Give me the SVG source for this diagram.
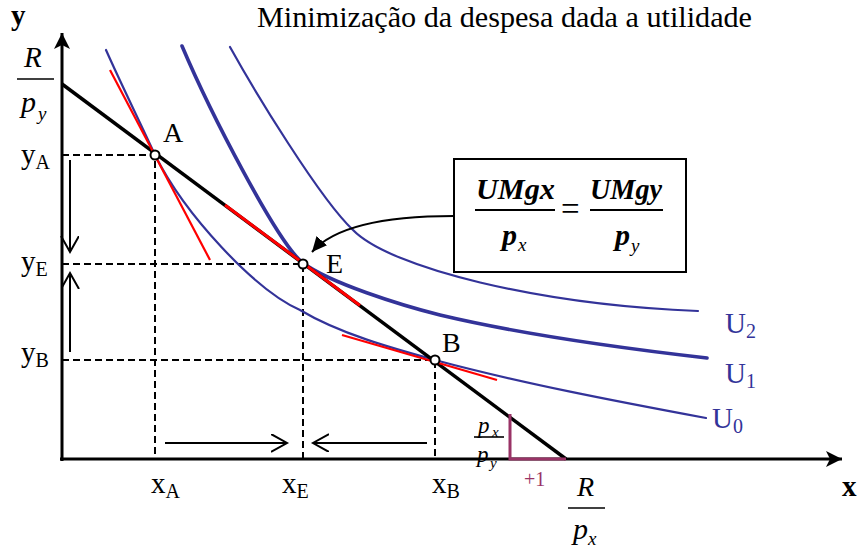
<svg xmlns="http://www.w3.org/2000/svg" width="858" height="552" viewBox="0 0 858 552">
<style>
  text { font-family: "Liberation Serif", "Times New Roman", serif; fill: #000; }
  .lbl { font-size: 29px; }
  .pl { font-size: 28px; }
  .sub { font-size: 20px; }
  .it { font-style: italic; }
  .bi { font-style: italic; font-weight: bold; }
  .ucl { fill: #333399; }
  .dash { stroke: #000; stroke-width: 2; stroke-dasharray: 7 4; fill: none; }
  .ic { fill: none; stroke: #333399; stroke-width: 2.2; stroke-linecap: round; }
  .tan { stroke: #ff0000; stroke-width: 2.2; fill: none; }
  .pt { fill: #fff; stroke: #000; stroke-width: 2; }
  .arr { stroke: #000; stroke-width: 2; fill: none; marker-end: url(#open); }
  .frac { stroke: #000; stroke-width: 1.6; }
</style>
<defs>
  <marker id="open" markerWidth="20" markerHeight="20" refX="16" refY="9" orient="auto" markerUnits="userSpaceOnUse">
    <path d="M0,0 L16,9 L0,18" fill="none" stroke="#000" stroke-width="2"/>
  </marker>
  <marker id="solid" markerWidth="20" markerHeight="20" refX="16" refY="8" orient="auto" markerUnits="userSpaceOnUse">
    <path d="M0,0 L16,8 L0,16 L4,8 Z" fill="#000"/>
  </marker>
  <marker id="call" markerWidth="20" markerHeight="20" refX="15" refY="7" orient="auto" markerUnits="userSpaceOnUse">
    <path d="M0,0 L15,7 L0,14 Z" fill="#000"/>
  </marker>
</defs>

<text x="257" y="27" style="font-size:30px" textLength="495" lengthAdjust="spacingAndGlyphs">Minimização da despesa dada a utilidade</text>

<g id="axes">
  <line x1="62" y1="461" x2="62" y2="33" stroke="#000" stroke-width="3" marker-end="url(#solid)"/>
  <line x1="60" y1="459" x2="842" y2="459" stroke="#000" stroke-width="3" marker-end="url(#solid)"/>
  <text x="11" y="25" style="font-size:29px;font-weight:bold">y</text>
  <text x="842" y="496" style="font-size:29px;font-weight:bold">x</text>
</g>

<g id="guides">
  <path class="dash" d="M62,155 H155 V459"/>
  <path class="dash" d="M62,264 H303 V459"/>
  <path class="dash" d="M62,360 H435 V459"/>
</g>

<g id="curves">
  <path id="U0" class="ic" d="M106,50 C122,86 140,122 155,155 C185,215 255,290 300,310 C340,334 395,349 435,360 C520,383 620,402 706,418"/>
  <path id="U1" class="ic" style="stroke-width:3.6" d="M182,46 C210,112 278,244 303,263 C330,283 400,305 440,315 C520,334 620,348 707,358"/>
  <path id="U2" class="ic" d="M230,47 C255,92 320,199 353,230 C390,268 540,305 698,311"/>
</g>

<g id="budget">
  <line x1="62" y1="84" x2="566" y2="459" stroke="#000" stroke-width="3.5"/>
  <line class="tan" x1="225" y1="205" x2="360" y2="305.5" style="stroke-width:3"/>
  <line class="tan" x1="110" y1="70" x2="210" y2="260"/>
  <line class="tan" x1="342" y1="335" x2="497" y2="380"/>
</g>

<g id="slope">
  <path d="M510,414 V459 H566" fill="none" stroke="#993366" stroke-width="3"/>
  <text x="524" y="486" style="font-size:20px;fill:#993366">+1</text>
  <text x="478" y="433" class="it" style="font-size:23px">p</text>
  <text x="492" y="437" class="it" style="font-size:15px">x</text>
  <line class="frac" x1="474" y1="437" x2="504" y2="437"/>
  <text x="477" y="462" class="it" style="font-size:23px">p</text>
  <text x="490" y="468" class="it" style="font-size:15px">y</text>
</g>

<g id="intercepts">
  <text x="24" y="67" class="it" style="font-size:29px">R</text>
  <line class="frac" x1="17" y1="79" x2="54" y2="79"/>
  <text x="21" y="112" class="it" style="font-size:30px">p</text>
  <text x="38" y="120" class="it" style="font-size:19px">y</text>

  <text x="577" y="496" class="it" style="font-size:28px">R</text>
  <line class="frac" x1="568" y1="508" x2="605" y2="508"/>
  <text x="573" y="539" class="it" style="font-size:30px">p</text>
  <text x="588" y="545" class="it" style="font-size:19px">x</text>
</g>

<g id="ylabels">
  <text x="21" y="164" class="lbl">y<tspan class="sub" dy="5">A</tspan></text>
  <text x="21" y="271" class="lbl">y<tspan class="sub" dy="5">E</tspan></text>
  <text x="21" y="362" class="lbl">y<tspan class="sub" dy="5">B</tspan></text>
</g>
<g id="xlabels">
  <text x="151" y="493" class="lbl">x<tspan class="sub" dy="5">A</tspan></text>
  <text x="282" y="493" class="lbl">x<tspan class="sub" dy="5">E</tspan></text>
  <text x="432" y="493" class="lbl">x<tspan class="sub" dy="5">B</tspan></text>
</g>

<g id="moves">
  <line class="arr" x1="70" y1="160" x2="70" y2="252"/>
  <line class="arr" x1="70" y1="352" x2="70" y2="273"/>
  <line class="arr" x1="165" y1="443" x2="287" y2="443"/>
  <line class="arr" x1="427" y1="443" x2="313" y2="443"/>
</g>

<g id="connectors">
  <path d="M454,216 C400,216 338,222 312,252" fill="none" stroke="#000" stroke-width="2" marker-end="url(#call)"/>
</g>

<g id="box">
  <rect x="454" y="159" width="232" height="113" fill="#fff" stroke="#000" stroke-width="2"/>
  <text x="476" y="199" class="bi" style="font-size:29px" textLength="79" lengthAdjust="spacingAndGlyphs">UMgx</text>
  <line x1="475" y1="210" x2="555" y2="210" stroke="#000" stroke-width="2"/>
  <text x="502" y="245" class="bi" style="font-size:30px">p</text>
  <text x="518" y="251" class="it" style="font-size:19px">x</text>
  <text x="561" y="220" style="font-size:33px">=</text>
  <text x="590" y="199" class="bi" style="font-size:29px" textLength="72" lengthAdjust="spacingAndGlyphs">UMgy</text>
  <line x1="590" y1="210" x2="663" y2="210" stroke="#000" stroke-width="2"/>
  <text x="615" y="245" class="bi" style="font-size:30px">p</text>
  <text x="631" y="252" class="it" style="font-size:19px">y</text>
</g>

<g id="points">
  <circle id="A" class="pt" cx="155" cy="155" r="4.5"/>
  <circle id="E" class="pt" cx="303" cy="264" r="4.5"/>
  <circle id="B" class="pt" cx="435" cy="360" r="4.5"/>
  <text x="163" y="142" class="pl">A</text>
  <text x="326" y="273" class="pl">E</text>
  <text x="442" y="352" class="pl">B</text>
</g>

<g id="ulabels">
  <text x="725" y="333" class="lbl ucl">U<tspan class="sub ucl" dy="5">2</tspan></text>
  <text x="725" y="383" class="lbl ucl">U<tspan class="sub ucl" dy="5">1</tspan></text>
  <text x="712" y="428" class="lbl ucl">U<tspan class="sub ucl" dy="5">0</tspan></text>
</g>
</svg>
